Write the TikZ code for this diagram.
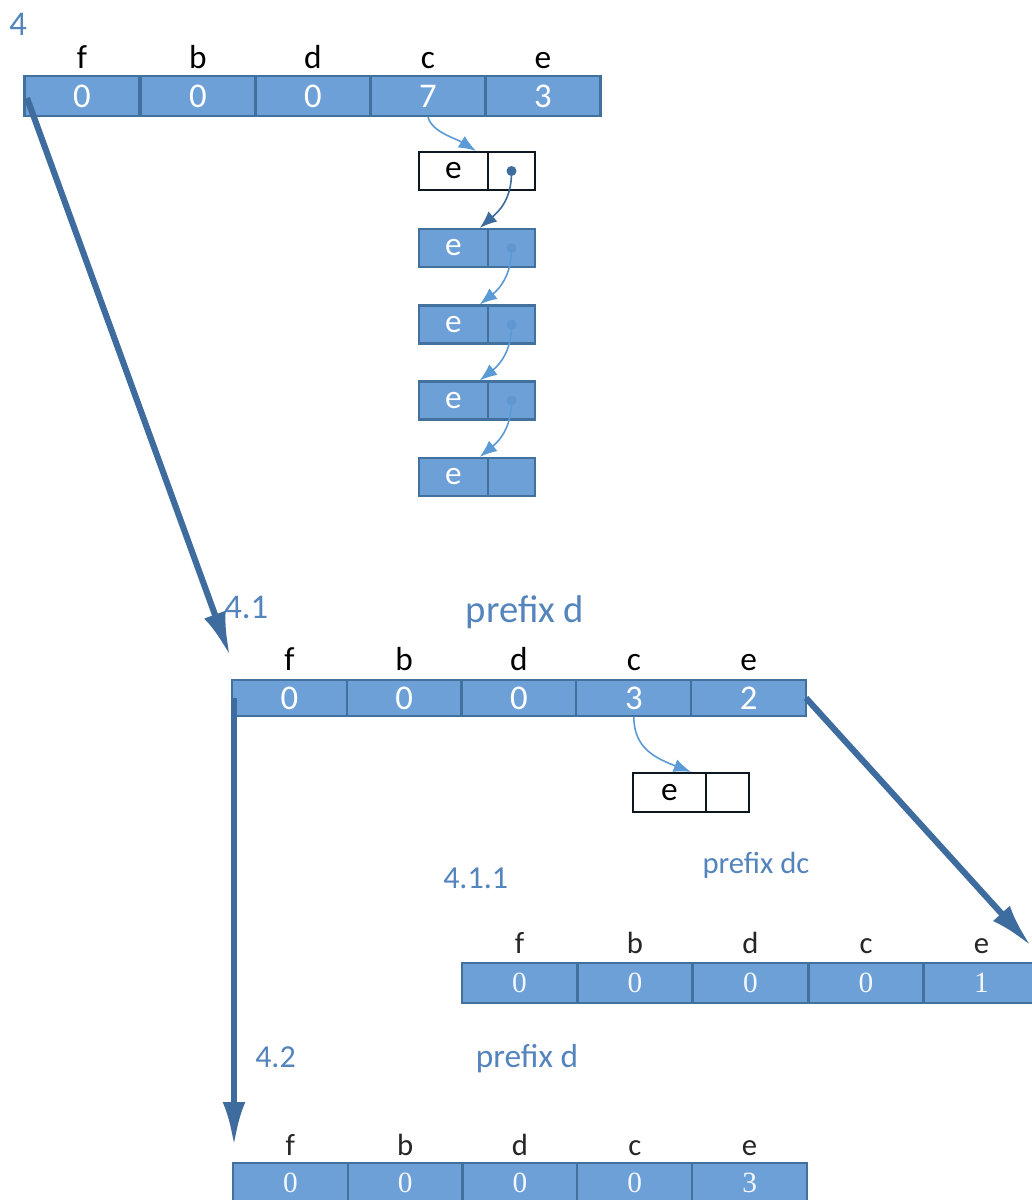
\documentclass[tikz,border=0pt]{standalone}
\usepackage{fontspec}
\setmainfont{Carlito}
\newfontfamily\numserif{Liberation Serif}
\usetikzlibrary{arrows.meta}
\definecolor{cellfill}{RGB}{110,160,216}
\definecolor{cellborder}{RGB}{65,113,156}
\definecolor{arrowdark}{RGB}{62,108,158}
\definecolor{lightarrow}{RGB}{91,155,213}
\definecolor{labelblue}{RGB}{84,132,188}
\definecolor{dotlight}{RGB}{96,150,210}
\tikzset{
  cellbox/.style={draw=cellborder, line width=1.6pt, fill=cellfill, minimum width=86.25pt, minimum height=30pt, inner sep=0pt, text=white, font=\fontsize{26}{26}\selectfont},
  cellboxb/.style={cellbox, minimum height=27pt},
  cellserif/.style={cellbox, font=\numserif\fontsize{22}{22}\selectfont, text=white!92!cellfill},
  collabel/.style={anchor=base, inner sep=0pt, text=black, font=\fontsize{25}{25}\selectfont},
  collabelthin/.style={anchor=base, inner sep=0pt, text=black!85, font=\fontsize{23}{23}\selectfont},
  steplabel/.style={anchor=base west, inner sep=0pt, text=labelblue},
  lleft/.style={draw=cellborder, line width=1.6pt, fill=cellfill, minimum width=51.75pt, minimum height=28.5pt, inner sep=0pt, text=white, font=\fontsize{25}{25}\selectfont},
  lright/.style={lleft, minimum width=35.25pt},
  wleft/.style={lleft, fill=white, draw=black!80!cellborder, text=black},
  wright/.style={lright, fill=white, draw=black!80!cellborder},
  bigarrow/.style={draw=arrowdark, line width=4.6pt, -{Latex[length=33pt,width=17pt]}},
  smallarrow/.style={draw=lightarrow, line width=1.2pt, -{Latex[length=13pt,width=10pt]}},
  dot/.style={circle, inner sep=0pt, minimum size=7.5pt}
}
\begin{document}
\begin{tikzpicture}[x=0.75pt,y=-0.75pt]
\useasboundingbox (0,0) rectangle (1032,1200);
\fill[white] (0,0) rectangle (1032,1200);

% ---- array 4
\node[steplabel, font=\fontsize{26}{26}\selectfont] (t4) at (9,35) {4};
\foreach \i/\x/\v/\l in {1/82/0/f,2/198/0/b,3/313/0/d,4/428/7/c,5/543/3/e}{
  \node[cellbox] (A\i) at (\x,96) {\v};
  \node[collabel] (AL\i) at (\x,68) {\l};
}

% ---- linked list
\node[wleft] (L1) at (453.5,171) {e};
\node[wright] (P1) at (511.5,171) {};
\foreach \i/\y in {2/248,3/324.5,4/400.5,5/477}{
  \node[lleft] (L\i) at (453.5,\y) {e};
  \node[lright] (P\i) at (511.5,\y) {};
}
\node[dot, fill=arrowdark] (D1) at (P1.center) {};
\node[dot, fill=dotlight] (D2) at (P2.center) {};
\node[dot, fill=dotlight] (D3) at (P3.center) {};
\node[dot, fill=dotlight] (D4) at (P4.center) {};

\draw[smallarrow] (A4.south) .. controls (432,132) and (455,138) .. ([xshift=-9.75pt]L1.north east);
\draw[smallarrow, draw=arrowdark] (D1.center) .. controls (512,200) and (498,212) .. ([xshift=-7pt]L2.north east);
\draw[smallarrow] (D2.center) .. controls (512,276) and (498,290) .. ([xshift=-7pt]L3.north east);
\draw[smallarrow] (D3.center) .. controls (512,352) and (498,366) .. ([xshift=-7pt]L4.north east);
\draw[smallarrow] (D4.center) .. controls (512,428) and (498,442) .. ([xshift=-7pt]L5.north east);

% ---- array 4.1
\node[steplabel, font=\fontsize{26}{26}\selectfont] (t41) at (224,618) {4.1};
\node[anchor=base, inner sep=0pt, text=labelblue, font=\fontsize{29}{29}\selectfont] (p41) at (525,622) {prefix d};
\foreach \i/\x/\v/\l in {1/289.4/0/f,2/404.2/0/b,3/519/0/d,4/633.8/3/c,5/748.6/2/e}{
  \node[cellboxb] (B\i) at (\x,698) {\v};
  \node[collabel] (BL\i) at (\x,670) {\l};
}
\node[wleft, minimum width=54.75pt, minimum height=29.25pt] (M1) at (669.5,792.5) {e};
\node[wright, minimum width=32.25pt, minimum height=29.25pt] (N1) at (727.5,792.5) {};
\draw[smallarrow] (B4.south) .. controls (634,748) and (655,758) .. ([xshift=-12pt]M1.north east);

% ---- array 4.1.1
\node[steplabel, font=\fontsize{24}{24}\selectfont] (t411) at (443,888) {4.1.1};
\node[anchor=base, inner sep=0pt, text=labelblue, font=\fontsize{23}{23}\selectfont] (p411) at (756,873) {prefix dc};
\foreach \i/\x/\v/\l in {1/519.5/0/f,2/635/0/b,3/750.5/0/d,4/866/0/c,5/981.5/1/e}{
  \node[cellserif] (C\i) at (\x,983) {\v};
  \node[collabelthin] (CL\i) at (\x,953) {\l};
}

% ---- array 4.2
\node[steplabel, font=\fontsize{24}{24}\selectfont] (t42) at (255,1067) {4.2};
\node[anchor=base, inner sep=0pt, text=labelblue, font=\fontsize{25}{25}\selectfont] (p42) at (527,1067) {prefix d};
\foreach \i/\x/\v/\l in {1/290.4/0/f,2/405.2/0/b,3/520/0/d,4/634.8/0/c,5/749.6/3/e}{
  \node[cellserif] (E\i) at (\x,1183) {\v};
  \node[collabelthin] (EL\i) at (\x,1155) {\l};
}

% ---- thick arrows
\coordinate (s1) at (27,98);
\coordinate (e1) at (230,656);
\coordinate (s2) at (234,698);
\coordinate (e2) at (234,1146);
\coordinate (s3) at (806,698);
\coordinate (e3) at (1031,946);
\draw[bigarrow] (s1) -- (e1);
\draw[bigarrow] (s2) -- (e2);
\draw[bigarrow] (s3) -- (e3);
\end{tikzpicture}
\end{document}
